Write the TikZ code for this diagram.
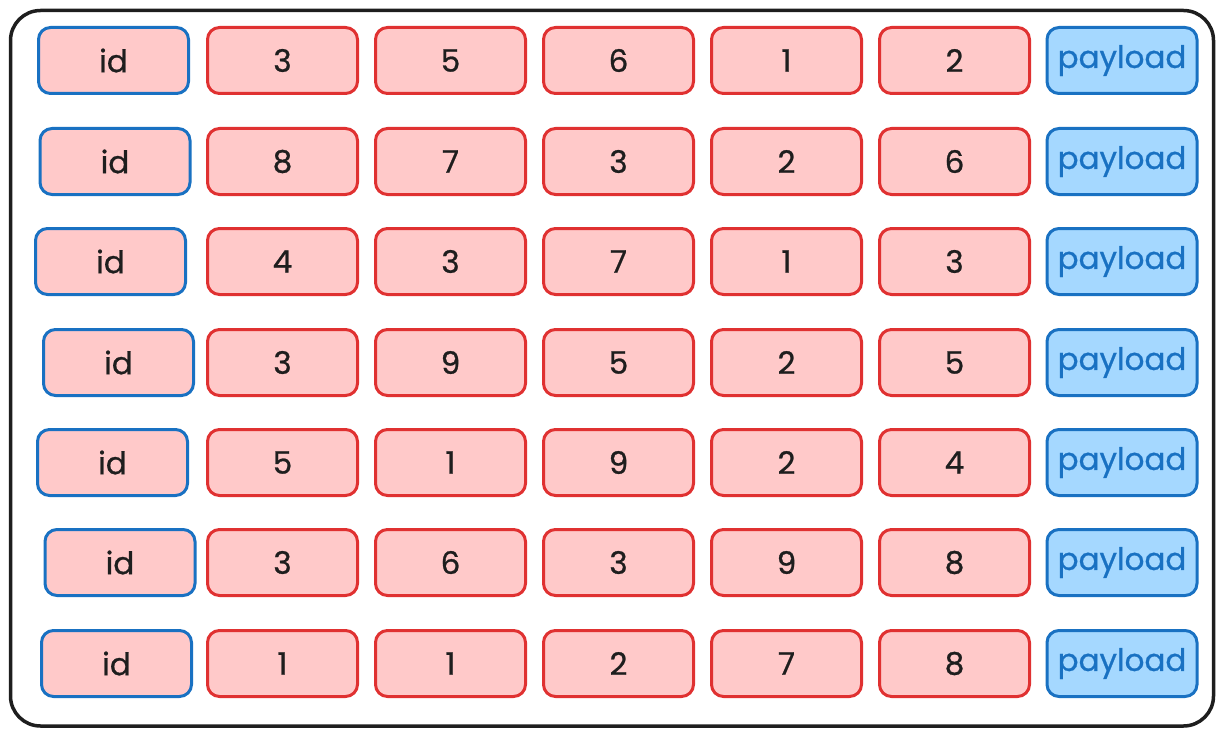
\documentclass[tikz,border=0pt]{standalone}
\usepackage{fontspec}
\setmainfont{Poppins}
\newfontfamily\sketchfont[FakeBold=0.8]{Poppins}
\usepackage{tikz}
\definecolor{cellred}{HTML}{E03131}
\definecolor{cellpink}{HTML}{FFC9C9}
\definecolor{keyblue}{HTML}{1971C2}
\definecolor{paylblue}{HTML}{A5D8FF}
\definecolor{inkdark}{HTML}{1E1E1E}
\tikzset{
	cellbox/.style={draw=cellred, fill=cellpink, line width=3pt, rounded corners=12pt,
		minimum width=150pt, minimum height=66pt, text=inkdark, font=\sketchfont\fontsize{31}{31}\selectfont},
	idbox/.style={cellbox, draw=keyblue},
	paybox/.style={cellbox, draw=keyblue, fill=paylblue, text=keyblue},
}

\begin{document}
\begin{tikzpicture}[x=1pt, y=-1pt]
		%%%%% START %%%%%
		\useasboundingbox (0, 0) rectangle (1225, 738);
		
		\draw[line width=3.5pt, color=inkdark, rounded corners=30pt] (10.5, 10.5) rectangle (1213.5, 726);
		
		% row 1
		\node[idbox] (id1) at (113.5, 60.5) {id};
		\node[cellbox] (c11) at (282.5, 60.5) {3};
		\node[cellbox] (c12) at (450.5, 60.5) {5};
		\node[cellbox] (c13) at (618.5, 60.5) {6};
		\node[cellbox] (c14) at (786.5, 60.5) {1};
		\node[cellbox] (c15) at (954.5, 60.5) {2};
		\node[paybox] (pl1) at (1122, 60.5) {payload};
		
		% row 2
		\node[idbox] (id2) at (115, 161.5) {id};
		\node[cellbox] (c21) at (282.5, 161.5) {8};
		\node[cellbox] (c22) at (450.5, 161.5) {7};
		\node[cellbox] (c23) at (618.5, 161.5) {3};
		\node[cellbox] (c24) at (786.5, 161.5) {2};
		\node[cellbox] (c25) at (954.5, 161.5) {6};
		\node[paybox] (pl2) at (1122, 161.5) {payload};
		
		% row 3
		\node[idbox] (id3) at (110.5, 261.5) {id};
		\node[cellbox] (c31) at (282.5, 261.5) {4};
		\node[cellbox] (c32) at (450.5, 261.5) {3};
		\node[cellbox] (c33) at (618.5, 261.5) {7};
		\node[cellbox] (c34) at (786.5, 261.5) {1};
		\node[cellbox] (c35) at (954.5, 261.5) {3};
		\node[paybox] (pl3) at (1122, 261.5) {payload};
		
		% row 4
		\node[idbox] (id4) at (118.5, 362.5) {id};
		\node[cellbox] (c41) at (282.5, 362.5) {3};
		\node[cellbox] (c42) at (450.5, 362.5) {9};
		\node[cellbox] (c43) at (618.5, 362.5) {5};
		\node[cellbox] (c44) at (786.5, 362.5) {2};
		\node[cellbox] (c45) at (954.5, 362.5) {5};
		\node[paybox] (pl4) at (1122, 362.5) {payload};
		
		% row 5
		\node[idbox] (id5) at (112.5, 462.5) {id};
		\node[cellbox] (c51) at (282.5, 462.5) {5};
		\node[cellbox] (c52) at (450.5, 462.5) {1};
		\node[cellbox] (c53) at (618.5, 462.5) {9};
		\node[cellbox] (c54) at (786.5, 462.5) {2};
		\node[cellbox] (c55) at (954.5, 462.5) {4};
		\node[paybox] (pl5) at (1122, 462.5) {payload};
		
		% row 6
		\node[idbox] (id6) at (120, 562.5) {id};
		\node[cellbox] (c61) at (282.5, 562.5) {3};
		\node[cellbox] (c62) at (450.5, 562.5) {6};
		\node[cellbox] (c63) at (618.5, 562.5) {3};
		\node[cellbox] (c64) at (786.5, 562.5) {9};
		\node[cellbox] (c65) at (954.5, 562.5) {8};
		\node[paybox] (pl6) at (1122, 562.5) {payload};
		
		% row 7
		\node[idbox] (id7) at (116.5, 663.5) {id};
		\node[cellbox] (c71) at (282.5, 663.5) {1};
		\node[cellbox] (c72) at (450.5, 663.5) {1};
		\node[cellbox] (c73) at (618.5, 663.5) {2};
		\node[cellbox] (c74) at (786.5, 663.5) {7};
		\node[cellbox] (c75) at (954.5, 663.5) {8};
		\node[paybox] (pl7) at (1122, 663.5) {payload};
		
		%%%%% END %%%%%
	\end{tikzpicture}
\end{document}
